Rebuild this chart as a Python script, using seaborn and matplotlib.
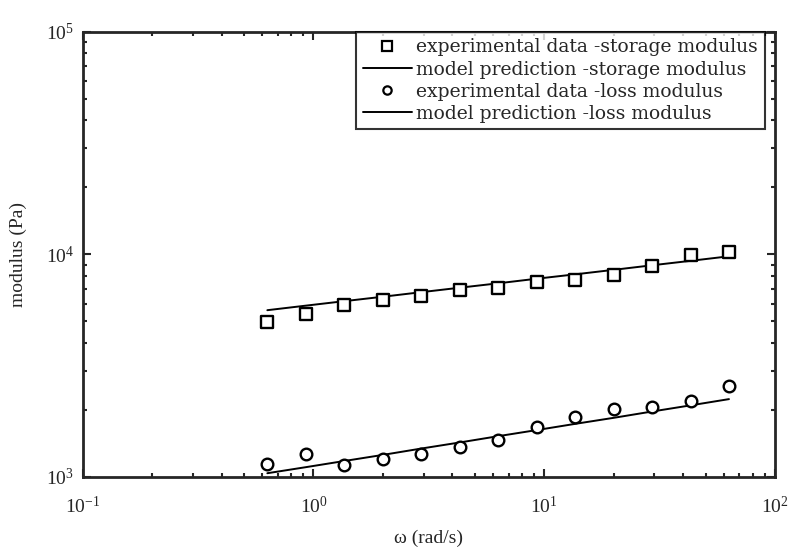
import matplotlib
matplotlib.use("Agg")
import matplotlib.pyplot as plt
import matplotlib.ticker as mticker
from matplotlib.lines import Line2D
import seaborn as sns
import pandas as pd

# angular frequency sweep (rad/s)
omega = [0.631, 0.926, 1.36, 2.0, 2.93, 4.30, 6.31, 9.26, 13.6, 20.0, 29.3, 43.0, 63.1]

# storage modulus (Pa)
storage_exp = [4950, 5380, 5900, 6220, 6490, 6900, 7050, 7490, 7650, 8050, 8840, 9900, 10200]
storage_model = [5610, 5880, 6160, 6450, 6760, 7080, 7410, 7770, 8130, 8520, 8930, 9350, 9800]

# loss modulus (Pa)
loss_exp = [1143, 1268, 1132, 1205, 1268, 1364, 1467, 1676, 1858, 2018, 2060, 2190, 2560]
loss_model = [1038, 1105, 1178, 1255, 1340, 1427, 1523, 1622, 1730, 1842, 1966, 2095, 2235]

legend_labels = [
    "experimental data -storage modulus",
    "model prediction -storage modulus",
    "experimental data -loss modulus",
    "model prediction -loss modulus",
]

df = pd.DataFrame({
    "omega": omega,
    "storage_exp": storage_exp,
    "storage_model": storage_model,
    "loss_exp": loss_exp,
    "loss_model": loss_model,
})

sns.set_style("ticks")
plt.rcParams["font.family"] = ["Liberation Serif", "DejaVu Serif"]
plt.rcParams["mathtext.fontset"] = "custom"
plt.rcParams["mathtext.rm"] = "Liberation Serif"
plt.rcParams["mathtext.it"] = "Liberation Serif:italic"

fig = plt.figure(figsize=(7.95, 5.59), dpi=100)
ax = fig.add_axes([0.104, 0.147, 0.871, 0.796])

# model lines underneath, open markers on top (they break the line)
sns.lineplot(data=df, x="omega", y="storage_model", ax=ax, color="black", lw=1.4, zorder=2)
sns.lineplot(data=df, x="omega", y="loss_model", ax=ax, color="black", lw=1.4, zorder=2)
sns.scatterplot(data=df, x="omega", y="storage_exp", ax=ax, marker="s", s=85,
                facecolor="white", edgecolor="black", linewidth=1.7, zorder=3)
sns.scatterplot(data=df, x="omega", y="loss_exp", ax=ax, marker="o", s=70,
                facecolor="white", edgecolor="black", linewidth=1.7, zorder=3)

ax.set_xscale("log")
ax.set_yscale("log")
ax.set_xlim(0.1, 100)
ax.set_ylim(1e3, 1e5)

ax.xaxis.set_major_locator(mticker.LogLocator(base=10))
ax.yaxis.set_major_locator(mticker.LogLocator(base=10))
ax.xaxis.set_minor_locator(mticker.LogLocator(base=10, subs=range(2, 10)))
ax.yaxis.set_minor_locator(mticker.LogLocator(base=10, subs=range(2, 10)))
ax.xaxis.set_minor_formatter(mticker.NullFormatter())
ax.yaxis.set_minor_formatter(mticker.NullFormatter())

ax.tick_params(which="both", direction="in", top=True, right=True, width=1.5, labelsize=14)
ax.tick_params(which="major", length=6)
ax.tick_params(which="minor", length=3)
ax.tick_params(axis="x", which="major", pad=14)
ax.tick_params(axis="y", which="major", pad=6)
for sp in ax.spines.values():
    sp.set_linewidth(2)

ax.set_xlabel("ω (rad/s)", fontsize=14, labelpad=9)
ax.set_ylabel("modulus (Pa)", fontsize=14, labelpad=14)

handles = [
    Line2D([], [], ls="none", marker="s", ms=7.5, mfc="white", mec="black", mew=1.6),
    Line2D([], [], color="black", lw=1.4),
    Line2D([], [], ls="none", marker="o", ms=6, mfc="white", mec="black", mew=1.6),
    Line2D([], [], color="black", lw=1.4),
]
leg = ax.legend(handles, legend_labels, loc="upper right", bbox_to_anchor=(0.985, 1.0),
                prop={"family": "DejaVu Serif", "size": 13.5}, frameon=True,
                fancybox=False, edgecolor="black", borderaxespad=0,
                handlelength=2.6, handletextpad=0.25, labelspacing=0.22, borderpad=0.35)
leg.get_frame().set_linewidth(1.5)

fig.savefig("out.png", dpi=100)
